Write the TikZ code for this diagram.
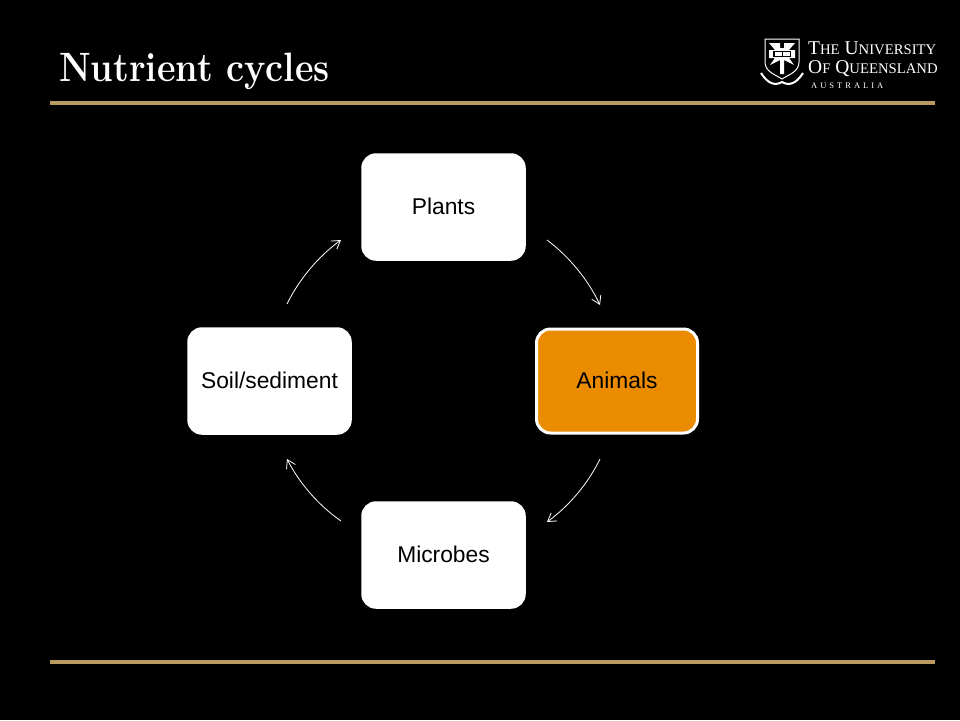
\documentclass[tikz,border=0pt]{standalone}
\usepackage{fontspec}
\setsansfont{Liberation Sans}
\newfontfamily\logofont{Liberation Serif}
\usetikzlibrary{arrows.meta}
\definecolor{rulegold}{HTML}{B99B5F}
\definecolor{animorange}{HTML}{EA8B00}
\newcommand{\lettersize}[1]{\fontsize{#1}{#1}\selectfont}
\tikzset{
  stage/.style={draw=white, fill=white, line width=1.5pt, rounded corners=14pt,
    minimum width=163pt, minimum height=106pt, inner sep=0pt, text=black,
    text height=16.5pt, text depth=2.5pt, font=\sffamily\lettersize{22.8}},
  cyc/.style={draw=white, line width=0.8pt, ->, >={Straight Barb[length=8pt,width=10pt]}},
  goldrule/.style={draw=rulegold, line width=3.5pt},
  logotext/.style={anchor=base west, inner sep=0pt, text=white, font=\logofont}
}
\begin{document}
\begin{tikzpicture}[x=1pt,y=-1pt]
  \fill[black] (0,0) rectangle (960,720);
  \useasboundingbox (0,0) rectangle (960,720);

  \node[anchor=base west, inner sep=0pt, text=white, font=\bfseries\lettersize{41}] (title)
    at (59,81) {\scalebox{0.88}[1]{Nutrient cycles}};

  \coordinate (r1a) at (50,103);
  \coordinate (r1b) at (935,103);
  \coordinate (r2a) at (50,662);
  \coordinate (r2b) at (935,662);
  \draw[goldrule] (r1a) -- (r1b);
  \draw[goldrule] (r2a) -- (r2b);

  % logo
  \draw[white, line width=1pt] (765,39) -- (799,39) -- (799,62)
    .. controls (799,72) and (788,75) .. (782,79)
    .. controls (776,75) and (765,72) .. (765,62) -- cycle;
  \fill[white] (769,43) -- (780,43) -- (780,48) -- (784,48) -- (784,43) -- (795,43)
    -- (789,50) -- (795,50) -- (795,58) -- (789,58) -- (794,65) -- (784,60)
    -- (784,74) -- (780,74) -- (780,60) -- (770,65) -- (775,58) -- (769,58) -- (769,50) -- (775,50) -- cycle;
  \fill[black] (773,51) rectangle (791,57);
  \fill[white] (774.5,52) rectangle (781.5,56);
  \fill[white] (782.5,52) rectangle (789.5,56);
  \draw[white, line width=2pt] (761,73) .. controls (768,84) and (775,86) .. (782,82)
    .. controls (789,86) and (796,84) .. (803,73);
  \node[logotext, font=\logofont\lettersize{19.5}] (uni) at (808,54)
    {T{\lettersize{14.7}HE} U{\lettersize{14.7}NIVERSITY}};
  \node[logotext, font=\logofont\lettersize{19.5}] (uq) at (808,73)
    {O{\lettersize{14.7}F} Q{\lettersize{14.7}UEENSLAND}};
  \node[logotext, font=\logofont\lettersize{8.5}] (aus) at (811,88)
    {A\hspace{3pt}U\hspace{3pt}S\hspace{3pt}T\hspace{3pt}R\hspace{3pt}A\hspace{3pt}L\hspace{3pt}I\hspace{3pt}A};

  \node[stage] (plants) at (443.5,207) {Plants};
  \node[stage, fill=animorange, line width=3pt, minimum width=161pt, minimum height=104pt] (animals) at (617,381) {Animals};
  \node[stage] (microbes) at (443.5,555) {Microbes};
  \node[stage] (soil) at (269.5,381) {Soil/sediment};

  \coordinate (pa) at (547,240);
  \coordinate (ap) at (600,305);
  \coordinate (am) at (600,459);
  \coordinate (ma) at (547,522);
  \coordinate (ms) at (341,521);
  \coordinate (sm) at (287,459);
  \coordinate (sp) at (287,304);
  \coordinate (ps) at (341,240);
  \draw[cyc] (pa) to[bend left=14, looseness=0.85] (ap);
  \draw[cyc] (am) to[bend left=14, looseness=0.85] (ma);
  \draw[cyc] (ms) to[bend left=14, looseness=0.85] (sm);
  \draw[cyc] (sp) to[bend left=14, looseness=0.85] (ps);
\end{tikzpicture}
\end{document}
